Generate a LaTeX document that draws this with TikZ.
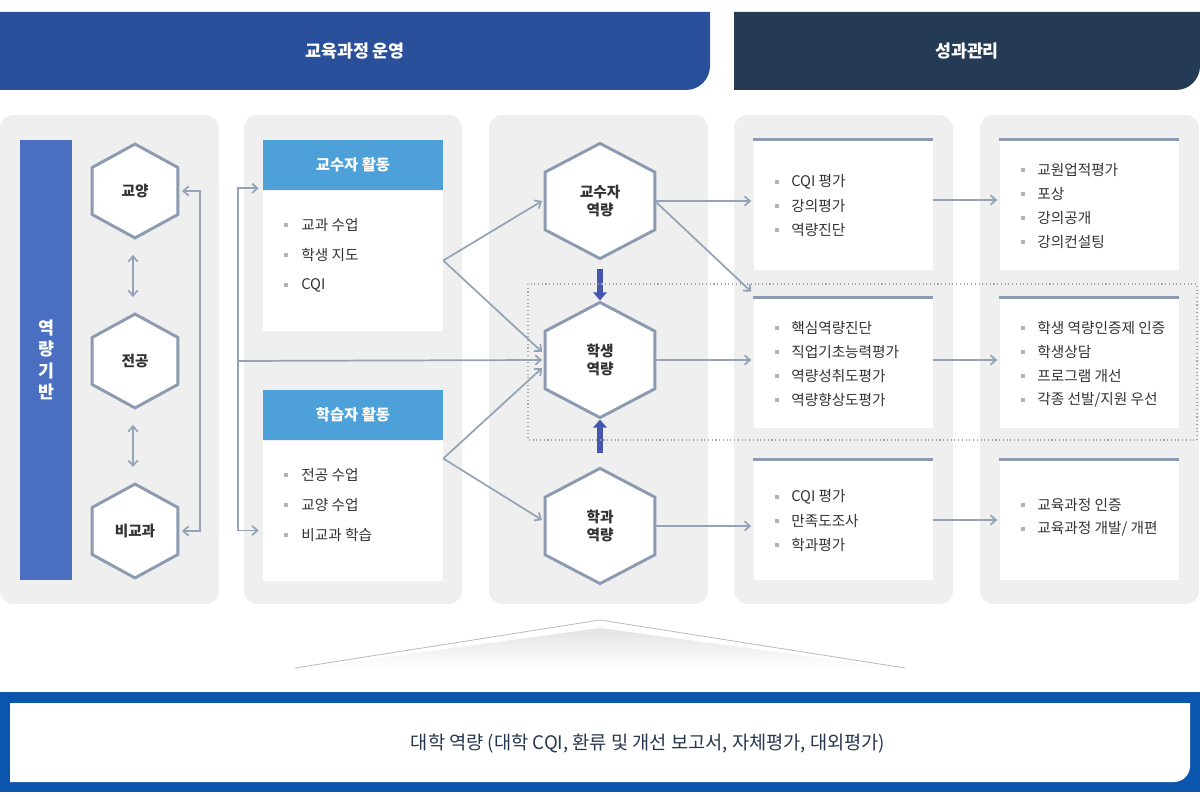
\documentclass[tikz,border=0pt]{standalone}
\usepackage{fontspec}
\setmainfont{Noto Sans CJK KR}
\usetikzlibrary{calc, arrows.meta, positioning}
\definecolor{bannerA}{RGB}{43, 80, 155}
\definecolor{bannerB}{RGB}{36, 58, 85}
\definecolor{panel}{RGB}{239, 239, 239}
\definecolor{basebar}{RGB}{74, 110, 192}
\definecolor{headblue}{RGB}{77, 160, 216}
\definecolor{conn}{RGB}{148, 163, 184}
\definecolor{hexline}{RGB}{141, 155, 178}
\definecolor{fatblue}{RGB}{70, 86, 175}
\definecolor{footblue}{RGB}{11, 85, 173}
\definecolor{txt}{RGB}{51, 51, 51}
\definecolor{foottxt}{RGB}{40, 55, 80}

\tikzset{
  panelbox/.style={fill=panel, rounded corners=10pt},
  hexnode/.style={inner sep=0, font=\bfseries\fontsize{11}{13}\selectfont, text=txt, align=center},
  hexdraw/.style={draw=hexline, line width=2.2pt, fill=white, line join=miter},
  headbox/.style={fill=headblue, text=white, minimum width=135pt, minimum height=37.5pt, inner sep=0, font=\bfseries\fontsize{11.5}{13}\selectfont},
  bodybox/.style={fill=white, minimum width=135pt, inner sep=0},
  outbox/.style={fill=white, minimum width=134.25pt, inner sep=0},
  conn/.style={draw=conn, line width=1.3pt, arrows={-Straight Barb[length=4pt, width=7pt]}},
  twoway/.style={conn, arrows={Straight Barb[length=4pt, width=7pt]-Straight Barb[length=4pt, width=7pt]}},
  fatarrow/.style={draw=fatblue, line width=4pt, arrows={-Triangle[length=6pt, width=10pt]}},
  item/.style={anchor=west, inner sep=0, text=txt, font=\fontsize{11}{13}\selectfont},
  dot/.style={fill=gray!60, minimum size=3.5pt, inner sep=0}
}

% hexagon around a named node
\newcommand{\hexaround}[1]{%
  \draw[hexdraw] (#1.north) -- ($(#1.north east)!0.25!(#1.south east)$) -- ($(#1.north east)!0.75!(#1.south east)$)
    -- (#1.south) -- ($(#1.north west)!0.75!(#1.south west)$) -- ($(#1.north west)!0.25!(#1.south west)$) -- cycle;
  \node[hexnode] at (#1) {\csname hx@#1\endcsname};}

\begin{document}
\begin{tikzpicture}[x=0.75pt, y=-0.75pt]

  \useasboundingbox (0,0) rectangle (1200,812);

  % banners
  \fill[bannerA] (0,12) -- (710,12) [rounded corners=18pt] -- (710,90) [sharp corners] -- (0,90) -- cycle;
  \node[text=white, font=\bfseries\fontsize{13}{15}\selectfont] (ban1) at (355,51) {교육과정 운영};
  \fill[bannerB] (734,12) -- (1200,12) [rounded corners=18pt] -- (1200,90) [sharp corners] -- (734,90) -- cycle;
  \node[text=white, font=\bfseries\fontsize{13}{15}\selectfont] (ban2) at (967,51) {성과관리};

  % panels
  \foreach \xa/\xb in {0/219, 244/462, 489/708, 734/953, 980/1199}
    \fill[panelbox] (\xa,115) rectangle (\xb,604);

  % column 1
  \fill[basebar] (20,140) rectangle (72,580);
  \node[text=white, font=\bfseries\fontsize{13}{16}\selectfont, align=center] (base) at (46,360) {역\\량\\기\\반};

  \expandafter\def\csname hx@gy\endcsname{교양}
  \expandafter\def\csname hx@jg\endcsname{전공}
  \expandafter\def\csname hx@bk\endcsname{비교과}
  \node[minimum width=64pt, minimum height=70pt, inner sep=0] (gy) at (135,191) {};
  \node[minimum width=64pt, minimum height=70pt, inner sep=0] (jg) at (135,361) {};
  \node[minimum width=64pt, minimum height=70pt, inner sep=0] (bk) at (135,531) {};
  \hexaround{gy} \hexaround{jg} \hexaround{bk}

  \draw[twoway] ($(gy.south)+(-2,17)$) -- ($(jg.north)+(-2,-17)$);
  \draw[twoway] ($(jg.south)+(-2,17)$) -- ($(bk.north)+(-2,-17)$);
  \draw[twoway] ($(gy.east)+(4,0)$) -| ($(bk.east)+(22,0)$) -- ($(bk.east)+(4,0)$);

  % column 2
  \node[headbox] (profhead) at (353,165) {교수자 활동};
  \node[bodybox, minimum height=105pt, below=0pt of profhead] (profbody) {};
  \node[headbox] (learnhead) at (353,415) {학습자 활동};
  \node[bodybox, minimum height=105pt, below=0pt of learnhead] (learnbody) {};
  \foreach \y/\t in {225/{교과 수업}, 255/{학생 지도}, 285/{CQI}, 475/{전공 수업}, 505/{교양 수업}, 535/{비교과 학습}} {
    \node[dot] at (286,\y) {};
    \node[item] at (301,\y) {\t};
  }

  \draw[twoway] ($(profhead.south west)+(-4,-2)$) -| ($(learnbody.west)+(-25,20)$) -- ($(learnbody.west)+(-4,20)$);

  % column 3
  \expandafter\def\csname hx@kp\endcsname{교수자\\역량}
  \expandafter\def\csname hx@hs\endcsname{학생\\역량}
  \expandafter\def\csname hx@hg\endcsname{학과\\역량}
  \node[minimum width=82pt, minimum height=86pt, inner sep=0] (kp) at (600,201) {};
  \node[minimum width=82pt, minimum height=86pt, inner sep=0] (hs) at (600,360) {};
  \node[minimum width=82pt, minimum height=86pt, inner sep=0] (hg) at (600,526) {};
  \hexaround{kp} \hexaround{hs} \hexaround{hg}

  \draw[conn] ($(jg.east)+(60,0)$) -- ($(hs.west)+(-3,0)$);
  \draw[conn] (profbody.east) -- ($(kp.west)+(-3,0)$);
  \draw[conn] (profbody.east) -- ($(hs.west)+(-3,-8)$);
  \draw[conn] ($(learnbody.east)+(0,-52)$) -- ($(hs.west)+(-3,8)$);
  \draw[conn] ($(learnbody.east)+(0,-52)$) -- ($(hg.west)+(-3,-6)$);

  \draw[fatarrow] ($(kp.south)+(0,10)$) -- ($(hs.north)+(0,-2)$);
  \draw[fatarrow] ($(hg.north)+(0,-15)$) -- ($(hs.south)+(0,2)$);

  % result area
  \draw[dotted, gray!70, line width=0.8pt] (528,284) rectangle (1197,440);

  \foreach \n/\x/\y/\h in {r11/843/205/97.5, r21/843/363/97.5, r31/843/520/90,
                           r12/1089/205/97.5, r22/1089/363/97.5, r32/1089/520/90} {
    \node[outbox, minimum height=\h pt] (\n) at (\x,\y) {};
    \draw[draw=hexline, line width=2.2pt] (\n.north west) -- (\n.north east);
  }

  \foreach \y/\t in {182/{CQI 평가}, 206/{강의평가}, 230/{역량진단},
                     328/{핵심역량진단}, 352/{직업기초능력평가}, 376/{역량성취도평가}, 400/{역량향상도평가},
                     497/{CQI 평가}, 521/{만족도조사}, 545/{학과평가}} {
    \node[dot] at (777,\y) {};
    \node[item] at (791,\y) {\t};
  }
  \foreach \y/\t in {170/{교원업적평가}, 194/{포상}, 218/{강의공개}, 242/{강의컨설팅},
                     328/{학생 역량인증제 인증}, 352/{학생상담}, 376/{프로그램 개선}, 400/{각종 선발/지원 우선},
                     505/{교육과정 인증}, 529/{교육과정 개발/ 개편}} {
    \node[dot] at (1023,\y) {};
    \node[item] at (1037,\y) {\t};
  }

  \draw[conn] (kp.east) -- ($(kp.east -| r11.west)+(-2,0)$);
  \draw[conn] (kp.east) -- ($(r21.north west)+(-2,-6)$);
  \draw[conn] (hs.east) -- ($(hs.east -| r21.west)+(-2,0)$);
  \draw[conn] (hg.east) -- ($(hg.east -| r31.west)+(-2,0)$);
  \draw[conn] ($(r11.east)+(0,-5)$) -- ($(r12.west)+(-2,-5)$);
  \draw[conn] ($(r21.east)+(0,-3)$) -- ($(r22.west)+(-2,-3)$);
  \draw[conn] (r31.east) -- ($(r32.west)+(-2,0)$);

  % roof
  \shade[top color=gray!22, bottom color=white] (305,668) -- (600,628) -- (895,668) -- cycle;
  \draw[gray!55, line width=0.6pt] (295,668) -- (600,620) -- (905,668);

  % footer
  \fill[footblue] (0,692) rectangle (1200,792);
  \fill[white] (10,703) -- (1190,703) [rounded corners=12pt] -- (1190,782) [sharp corners] -- (10,782) -- cycle;
  \node[text=foottxt, font=\fontsize{14}{16}\selectfont] (foot) at (648,744) {대학 역량 (대학 CQI, 환류 및 개선 보고서, 자체평가, 대외평가)};

\end{tikzpicture}
\end{document}
